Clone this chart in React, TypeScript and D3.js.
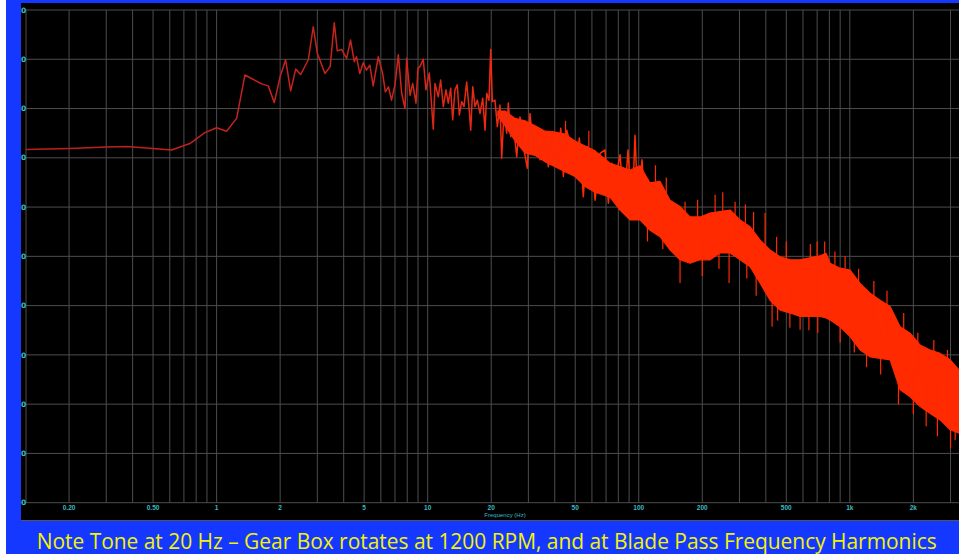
import React from "react";
import * as d3 from "d3";

// Spectrum line (Hz, dB)
const lineFreqs = [
  0.125, 0.202, 0.3, 0.375, 0.5, 0.612, 0.747, 0.88, 1.0, 1.115, 1.244, 1.362, 1.634, 1.757, 1.876, 2.0, 2.123, 2.243, 2.37, 2.5,
  2.72, 2.87, 3.0, 3.26, 3.45, 3.61, 3.73, 3.91, 4.13, 4.31, 4.49, 4.6, 4.77, 4.95, 5.13, 5.32, 5.52, 5.83, 6.12, 6.3,
  6.52, 6.74, 7.0, 7.26, 7.53, 7.81, 7.95, 8.25, 8.49, 8.8, 9.0,
  9.19, 9.53, 9.81, 10.18, 10.63, 10.83, 11.23, 11.52, 11.86, 12.21, 12.52, 12.85, 13.14, 13.47, 13.81, 14.12, 14.49, 14.86, 15.3,
  15.75, 15.99, 16.35, 16.76, 17.18, 17.7, 18.23, 18.69, 19.04, 19.52, 19.89, 20.24, 20.84, 21.38, 22.01, 22.42, 22.99, 23.68, 24.1,
  24.74, 25.45, 26.41, 27.38, 28.39, 29.65, 30.53, 31.66, 32.86, 34.06, 35.97, 37.3, 39.13, 40.88, 42.7, 43.93, 45.59, 48.13,
  49.9, 52.3, 54.63, 56.7, 59.88, 62.08, 65.56, 69.23, 71.77, 74.47, 78.65, 81.54, 85.18, 88.98, 92.94, 96.0, 99.24, 103.6, 108.3,
  113.0,
];
const lineDb = [
  -28.3, -28.1, -27.8, -27.7, -28.1, -28.4, -27.1, -24.9, -23.9, -24.6, -22.0, -13.2, -15.0, -15.4, -18.8, -13.5, -10.1, -16.4, -12.0, -13.1,
  -10.1, -3.4, -8.8, -12.9, -11.5, -2.6, -8.3, -8.0, -9.8, -6.1, -10.5, -9.5, -12.9, -10.7, -12.2, -11.2, -15.4, -9.5, -12.9, -16.6,
  -15.6, -18.3, -15.2, -9.1, -16.9, -20.0, -9.8, -17.3, -14.9, -18.9, -11.8,
  -11.5, -10.0, -16.2, -12.8, -24.2, -14.9, -17.6, -14.2, -19.6, -16.2, -18.9, -15.9, -22.3, -16.2, -15.2, -21.3, -18.6, -19.6, -14.6,
  -20.6, -24.4, -15.6, -19.6, -18.3, -21.0, -17.9, -24.4, -16.9, -18.3, -8.0, -18.6, -18.3, -23.7, -19.3, -30.1, -20.6, -25.0, -18.9,
  -25.7, -23.0, -29.8, -21.7, -27.7, -32.1, -21.0, -27.7, -26.0, -30.4, -25.7, -31.8, -24.7, -31.8, -24.0, -33.8, -24.4, -28.4,
  -33.1, -26.0, -37.9, -27.7, -29.1, -38.6, -29.1, -28.4, -39.2, -31.1, -33.1, -29.4, -39.6, -28.4, -41.6, -25.4, -40.6, -30.4, -42.6,
  -35.0,
];

// Dense part of the spectrum: upper / lower envelope (Hz, dB)
const bandFreqs = [
  21.5, 23.25, 25.93, 28.91, 32.25, 35.97, 40.12, 44.74, 49.9, 55.65, 62.08, 73.11, 81.54, 90.95, 101.4, 113.1, 126.2, 140.7, 156.9, 175.0,
  195.2, 217.7, 242.8, 270.8, 302.0, 336.9, 375.7, 419.0, 467.4, 521.3, 581.4, 648.3, 723.1, 772.2, 806.4, 899.5, 1003, 1119, 1248, 1392,
  1552, 1731, 1931, 2154, 2402, 2679, 2988, 3296, 3400,
];
const bandUpper = [
  -20.5, -20.5, -22.0, -22.5, -23.5, -24.6, -24.8, -25.2, -26.6, -27.6, -28.6, -31.1, -31.8, -32.5, -31.6, -35.1, -34.8, -38.6, -39.9, -42.0,
  -42.0, -41.2, -40.9, -40.6, -42.6, -44.0, -46.7, -48.7, -50.1, -50.7, -50.7, -50.3, -49.9, -49.4, -51.4, -52.4, -52.8, -55.5, -57.5, -58.9,
  -60.2, -64.3, -65.6, -68.0, -69.0, -69.7, -71.0, -73.1, -74.0,
];
const bandLower = [
  -21.5, -23.5, -26.5, -29.0, -29.5, -30.8, -31.8, -32.8, -33.8, -35.8, -37.0, -38.0, -40.6, -42.6, -42.6, -44.7, -46.0, -48.7, -50.7, -51.4,
  -50.7, -50.7, -49.3, -49.3, -50.7, -52.1, -55.4, -58.9, -60.9, -61.5, -62.2, -62.2, -62.2, -62.5, -62.9, -64.3, -66.3, -69.0, -70.4, -70.7,
  -71.0, -77.1, -78.5, -80.5, -81.9, -83.2, -85.2, -85.9, -86.5,
];

// Isolated spikes out of the dense band (Hz, tip dB)
const spikeFreqs = [
  45, 58, 120, 135, 156.9, 165.8, 190, 230, 250, 267.9, 286.1, 320, 350, 396.8, 450, 500, 650, 700, 760, 850, 950, 1100, 1300, 1500,
  1800, 2100, 2500, 2900,
  110, 130, 200, 240, 325, 360, 428.3, 455, 520, 581.4, 640, 705, 900, 1050, 1200, 1400, 1700, 2000, 2300, 2600, 3000, 3155,
];
const spikeTips = [
  -22.5, -24.5, -31.5, -34.0, -55.4, -38.9, -38.5, -37.5, -37.0, -55.4, -38.9, -39.5, -41.0, -41.2, -46.0, -47.0, -47.5, -47.0, -47.0, -49.0, -50.0, -52.5, -55.0, -57.0,
  -61.5, -65.5, -67.0, -69.0,
  -47.0, -48.5, -54.0, -52.5, -54.5, -58.0, -64.3, -63.0, -64.5, -64.9, -65.0, -65.5, -67.5, -69.5, -72.5, -74.0, -80.0, -82.0, -84.5, -86.5, -89.0, -87.3,
];

const xTickValues = [0.2, 0.5, 1, 2, 5, 10, 20, 50, 100, 200, 500, 1000, 2000];
const xTickLabels = ["0.20", "0.50", "1", "2", "5", "10", "20", "50", "100", "200", "500", "1k", "2k"];
const yTickValues = [0, -10, -20, -30, -40, -50, -60, -70, -80, -90, -100];
const yTickLabels = ["0", "0", "0", "0", "0", "0", "0", "0", "0", "0", "0"];
const xTitle = "Frequency (Hz)";
const caption = "Note Tone at 20 Hz \u2013 Gear Box rotates at 1200 RPM, and at Blade Pass Frequency Harmonics";

const W = 959;
const H = 554;
const plotL = 26;
const plotT = 10;
const plotB = 502.7;

export default function App() {
  const x = d3.scaleLog().domain([0.125, 3400]).range([plotL, 962]);
  const y = d3.scaleLinear().domain([0, -100]).range([plotT, plotB]);

  const line = d3
    .line<number>()
    .x((_, i) => x(lineFreqs[i]))
    .y((d) => y(d));
  const area = d3
    .area<number>()
    .x((_, i) => x(bandFreqs[i]))
    .y0((_, i) => y(bandLower[i]))
    .y1((d) => y(d));

  const upInterp = d3.scaleLog().domain(bandFreqs).range(bandUpper);
  const loInterp = d3.scaleLog().domain(bandFreqs).range(bandLower);

  const gridX = x.ticks();
  const grid = "#4d4d4d";
  const cyan = "#3cbcc4";
  const red = "#ff2a00";

  return (
    <svg width={W} height={H} style={{ position: "absolute", left: 0, top: 0 }}>
      <defs>
        <clipPath id="plotClip">
          <rect x={plotL} y={plotT - 1} width={W - plotL} height={plotB - plotT + 2} />
        </clipPath>
        <linearGradient id="lineGrad" gradientUnits="userSpaceOnUse" x1={plotL} y1={0} x2={W} y2={0}>
          <stop offset="0%" stopColor="#b82020" />
          <stop offset="38%" stopColor="#c8241c" />
          <stop offset="50%" stopColor="#f02a10" />
          <stop offset="60%" stopColor={red} />
          <stop offset="100%" stopColor={red} />
        </linearGradient>
      </defs>
      <rect x={0} y={0} width={W} height={H} fill="#ffffff" />
      <rect x={6} y={0} width={W - 6} height={H} fill="#1438ff" />
      <rect x={21} y={3} width={W - 21} height={517.5} fill="#000000" />
      <line x1={21} x2={W} y1={520.5} y2={520.5} stroke="#555" strokeWidth={1} />

      {/* grid */}
      {yTickValues.map((v, i) => (
        <line key={"gy" + i} x1={plotL} x2={W} y1={y(v)} y2={y(v)} stroke={grid} strokeWidth={1} />
      ))}
      {gridX.map((f, i) => (
        <line key={"gx" + i} x1={x(f)} x2={x(f)} y1={plotT} y2={plotB} stroke={grid} strokeWidth={1} />
      ))}
      <line x1={plotL} x2={plotL} y1={plotT} y2={plotB} stroke={grid} strokeWidth={1} />

      {/* data */}
      <g clipPath="url(#plotClip)">
        <path d={area(bandUpper) || ""} fill={red} stroke={red} strokeWidth={1.2} strokeLinejoin="round" />
        {spikeFreqs.map((f, i) => (
          <line
            key={"sp" + i}
            x1={x(f)}
            x2={x(f)}
            y1={y((upInterp(f) + loInterp(f)) / 2)}
            y2={y(spikeTips[i])}
            stroke={red}
            strokeWidth={1.2}
          />
        ))}
        <path d={line(lineDb) || ""} fill="none" stroke="url(#lineGrad)" strokeWidth={1.5} strokeLinejoin="round" />
      </g>

      {/* y tick labels */}
      {yTickValues.map((v, i) => (
        <text
          key={"yl" + i}
          x={21}
          y={y(v)}
          dy="0.35em"
          fill={cyan}
          fontFamily="DejaVu Sans, sans-serif"
          fontSize={7.5}
          fontWeight="bold"
        >
          {yTickLabels[i]}
        </text>
      ))}

      {/* x tick labels */}
      {xTickValues.map((f, i) => (
        <text
          key={"xl" + i}
          x={x(f)}
          y={509.5}
          textAnchor="middle"
          fill={cyan}
          fontFamily="Liberation Sans, Arial, sans-serif"
          fontSize={6.5}
          fontWeight="bold"
        >
          {xTickLabels[i]}
        </text>
      ))}
      <text x={505} y={516.5} textAnchor="middle" fill={cyan} fontFamily="Liberation Sans, Arial, sans-serif" fontSize={6}>
        {xTitle}
      </text>

      {/* caption */}
      <text
        x={36.7}
        y={548.5}
        fill="#f4f400"
        fontFamily="Open Sans, sans-serif"
        fontSize={21}
        textLength={900}
        lengthAdjust="spacingAndGlyphs"
      >
        {caption}
      </text>
    </svg>
  );
}
